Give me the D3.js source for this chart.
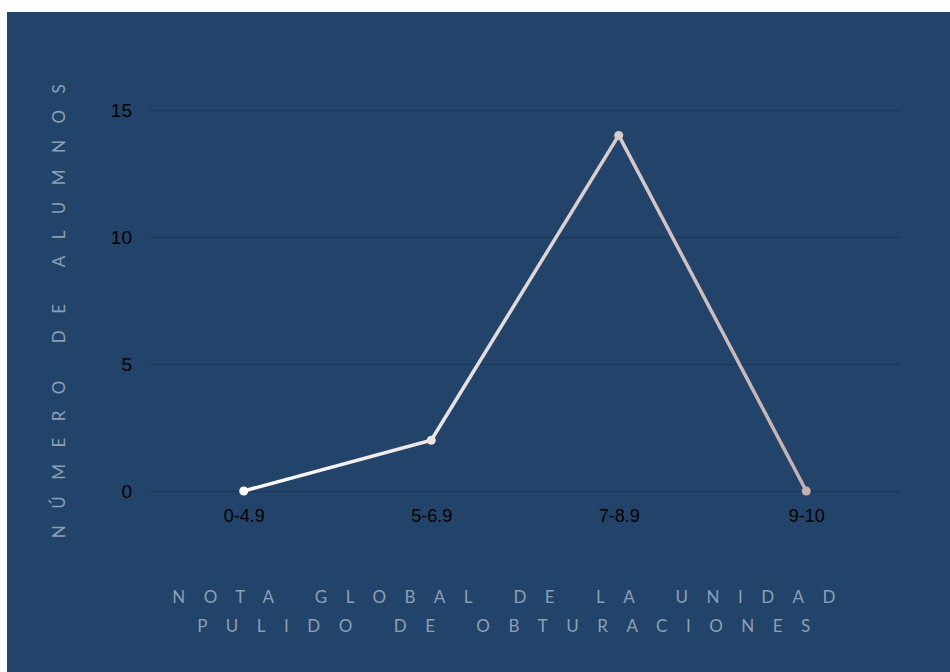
<!DOCTYPE html>
<html lang="es">
  <head>
    <meta charset="utf-8">
    <title>Nota global</title>
    <script src="https://d3js.org/d3.v7.min.js"></script>
    <style>
      body { margin: 0; background: #ffffff; }
      .tick text { font-family: "Liberation Sans", Arial, sans-serif; fill: #000000; }
      .axisTitle { font-family: Lato, "Open Sans", sans-serif; font-size: 17px; fill: #8d9fb5; letter-spacing: 18.5px; }
    </style>
  </head>
  <body>
    <div id="chart"></div>
    <script>

      var categories = ["0-4.9", "5-6.9", "7-8.9", "9-10"];
      var alumnos = [0, 2, 14, 0];
      var yTicks = [0, 5, 10, 15];

      var width = 950;
      var height = 672;
      var margin = {top: 110, left: 150, right: 50, bottom: 181};

      var svg = d3.select("#chart")
        .append("svg")
        .attr("width", width)
        .attr("height", height);

      svg.append("rect")
        .attr("x", 7)
        .attr("y", 12)
        .attr("width", width - 7)
        .attr("height", height - 12)
        .attr("fill", "#22446a");

      var xScale = d3.scalePoint()
        .domain(categories)
        .range([margin.left, width - margin.right])
        .padding(0.5);

      var yScale = d3.scaleLinear()
        .domain([0, 15])
        .range([height - margin.bottom, margin.top]);

      // grid + y labels
      var yAxis = svg.append("g")
        .attr("transform", `translate(${margin.left},0)`)
        .call(d3.axisLeft(yScale).tickValues(yTicks).tickSize(-(width - margin.left - margin.right)).tickPadding(18));
      yAxis.select(".domain").remove();
      yAxis.selectAll(".tick line").attr("stroke", "#1c3a5c").attr("stroke-width", 1.5);
      yAxis.selectAll(".tick text").style("font-size", "19px");

      var xAxis = svg.append("g")
        .attr("transform", `translate(0,${height - margin.bottom})`)
        .call(d3.axisBottom(xScale).tickSize(0).tickPadding(18));
      xAxis.select(".domain").remove();
      xAxis.selectAll(".tick text").style("font-size", "18px");

      var color = d3.scaleLinear()
        .domain([xScale(categories[0]), xScale(categories[categories.length - 1])])
        .range(["#ffffff", "#c4b0b0"]);

      var grad = svg.append("defs").append("linearGradient")
        .attr("id", "lineGrad")
        .attr("gradientUnits", "userSpaceOnUse")
        .attr("x1", xScale(categories[0]))
        .attr("x2", xScale(categories[categories.length - 1]))
        .attr("y1", 0).attr("y2", 0);
      grad.append("stop").attr("offset", "0%").attr("stop-color", "#ffffff");
      grad.append("stop").attr("offset", "100%").attr("stop-color", "#c4b0b0");

      var data = categories.map(function(c, i){ return {x: c, y: alumnos[i]}; });

      var line = d3.line()
        .x(function(d){ return xScale(d.x); })
        .y(function(d){ return yScale(d.y); });

      svg.append("path")
        .datum(data)
        .attr("d", line)
        .attr("fill", "none")
        .attr("stroke", "url(#lineGrad)")
        .attr("stroke-width", 3.5);

      svg.selectAll(".dot")
        .data(data)
        .enter()
        .append("circle")
          .attr("class", "dot")
          .attr("cx", function(d){ return xScale(d.x); })
          .attr("cy", function(d){ return yScale(d.y); })
          .attr("r", 4.5)
          .attr("fill", function(d){ return color(xScale(d.x)); });

      svg.append("text")
        .attr("class", "axisTitle")
        .attr("transform", "translate(65,303) rotate(-90)")
        .attr("text-anchor", "middle")
        .style("letter-spacing", "16.5px")
        .text("NÚMERO DE ALUMNOS");

      svg.append("text")
        .attr("class", "axisTitle")
        .attr("x", 513)
        .attr("y", 603)
        .attr("text-anchor", "middle")
        .text("NOTA GLOBAL DE LA UNIDAD");

      svg.append("text")
        .attr("class", "axisTitle")
        .attr("x", 513)
        .attr("y", 632)
        .attr("text-anchor", "middle")
        .text("PULIDO DE OBTURACIONES");

    </script>
  </body>
</html>
